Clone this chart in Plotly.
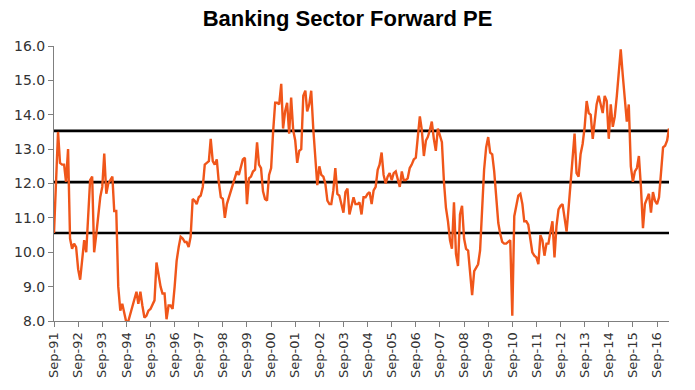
import pandas as pd
import plotly.graph_objects as go

# Monthly forward PE readings, Sep-91 onwards
pe_1991_1995 = [10.56, 12.0, 13.5, 12.6, 12.55, 12.55, 12.05, 13.0, 10.4, 10.1,
                10.25, 10.15, 9.5, 9.2, 9.9, 10.35, 10.0, 11.3, 12.1, 12.2,
                10.0, 10.5, 11.1, 11.6, 11.9, 12.87, 11.7, 12.0, 12.1, 12.2,
                11.2, 11.2, 9.0, 8.3, 8.5, 8.2, 7.95, 8.0, 8.2, 8.4,
                8.6, 8.85, 8.5, 8.85, 8.45, 8.1, 8.15, 8.3, 8.35, 8.5,
                8.6, 9.7, 9.3, 9.0, 8.8, 8.8, 8.05, 8.45, 8.45, 8.35]
pe_1996_2000 = [9.0, 9.75, 10.15, 10.45, 10.4, 10.3, 10.3, 10.15, 10.45, 11.55,
                11.5, 11.4, 11.6, 11.65, 11.9, 12.55, 12.6, 12.65, 13.3, 12.65,
                12.55, 12.7, 12.05, 11.6, 11.55, 11.0, 11.4, 11.6, 11.8, 12.0,
                12.2, 12.35, 12.25, 12.5, 12.7, 12.75, 11.4, 12.15, 12.2, 12.35,
                12.4, 13.2, 12.55, 12.45, 11.77, 11.55, 11.5, 12.25, 12.45, 13.5,
                14.35, 14.35, 14.3, 14.9, 13.6, 14.1, 14.35, 13.45, 14.5, 13.55]
pe_2001_2005 = [13.25, 12.6, 12.95, 13.0, 14.55, 14.7, 14.1, 14.3, 14.7, 13.6,
                12.85, 11.95, 12.5, 12.25, 12.2, 12.0, 11.5, 11.4, 11.4, 11.8,
                12.45, 11.7, 11.65, 11.4, 11.15, 11.75, 11.85, 11.1, 11.4, 11.6,
                11.4, 11.4, 11.45, 11.1, 11.6, 11.6, 11.7, 11.75, 11.4, 11.8,
                11.9, 12.4, 12.55, 12.9, 12.25, 12.0, 12.2, 12.3, 12.1, 12.3,
                12.35, 12.1, 11.9, 12.35, 12.1, 12.1, 12.15, 12.45, 12.55, 12.7]
pe_2006_2010 = [12.75, 13.35, 13.95, 13.55, 12.8, 13.25, 13.35, 13.55, 13.8, 13.3,
                12.95, 13.6, 13.35, 13.2, 12.05, 11.3, 10.9, 10.35, 10.1, 11.45,
                9.95, 9.6, 11.1, 11.35, 10.4, 10.1, 10.05, 9.45, 8.75, 9.45,
                9.55, 9.65, 10.05, 11.3, 12.4, 13.05, 13.35, 12.9, 12.85, 12.35,
                11.6, 10.85, 10.55, 10.3, 10.25, 10.25, 10.3, 10.35, 8.15, 11.05,
                11.35, 11.65, 11.7, 11.4, 10.9, 10.9, 10.8, 10.4, 10.0, 9.9]
pe_2011_2017 = [9.85, 9.65, 10.5, 10.35, 9.9, 10.25, 10.25, 10.6, 10.9, 9.85,
                10.75, 11.25, 11.35, 11.4, 10.9, 10.6, 11.3, 12.05, 12.6, 13.45,
                12.3, 12.2, 12.85, 13.15, 13.65, 14.4, 14.05, 14.0, 13.3, 13.95,
                14.3, 14.55, 14.3, 14.05, 14.55, 14.4, 13.3, 14.3, 13.65, 13.95,
                14.55, 15.25, 15.9, 15.15, 14.4, 13.8, 14.3, 12.5, 12.05, 12.35,
                12.45, 12.8, 11.9, 10.7, 11.4, 11.55, 11.7, 11.15, 11.75, 11.5,
                11.4, 11.6, 12.25, 13.05, 13.1, 13.25, 13.6]

# Reference levels: +1 sd, mean, -1 sd
band_levels = [13.53, 12.04, 10.56]

y_ticks = [8, 9, 10, 11, 12, 13, 14, 15, 16]

forward_pe = pe_1991_1995 + pe_1996_2000 + pe_2001_2005 + pe_2006_2010 + pe_2011_2017
dates = pd.date_range("1991-09-01", periods=len(forward_pe), freq="MS")

fig = go.Figure()
for lvl in band_levels:
    fig.add_trace(go.Scatter(
        x=[dates[0], dates[-1]], y=[lvl, lvl], mode="lines",
        line=dict(color="#000000", width=2.6), hoverinfo="skip", showlegend=False))

fig.add_trace(go.Scatter(
    x=dates, y=forward_pe, mode="lines",
    line=dict(color="#F0561A", width=2.4), showlegend=False))

fig.update_layout(
    width=695, height=390,
    margin=dict(l=54, r=26, t=46, b=69),
    paper_bgcolor="white", plot_bgcolor="white",
    title=dict(text="<b>Banking Sector Forward PE</b>", x=0.5, xanchor="center",
               y=0.953, yanchor="middle",
               font=dict(family="Liberation Sans, Arial", size=22, color="#000000")),
    font=dict(family="DejaVu Sans", color="#333333"),
)

fig.update_xaxes(
    type="date", range=[dates[0], dates[-1]],
    tick0="1991-09-01", dtick="M12", tickformat="%b-%y", tickangle=-90,
    ticks="outside", ticklen=5, tickcolor="#7f7f7f",
    showline=True, linecolor="#7f7f7f", linewidth=1,
    showgrid=False, zeroline=False, automargin=False,
    tickfont=dict(family="DejaVu Sans", size=13, color="#333333"),
)
fig.update_yaxes(
    range=[8, 16], tickvals=y_ticks, tickformat=".1f",
    ticks="outside", ticklen=5, tickcolor="#7f7f7f",
    showline=True, linecolor="#7f7f7f", linewidth=1,
    showgrid=False, zeroline=False, automargin=False,
    tickfont=dict(family="DejaVu Sans", size=14, color="#333333"),
)

fig.write_html("out.html",
               config={"displayModeBar": False},
               post_script="document.body.style.margin='0';document.body.style.overflow='hidden';")
